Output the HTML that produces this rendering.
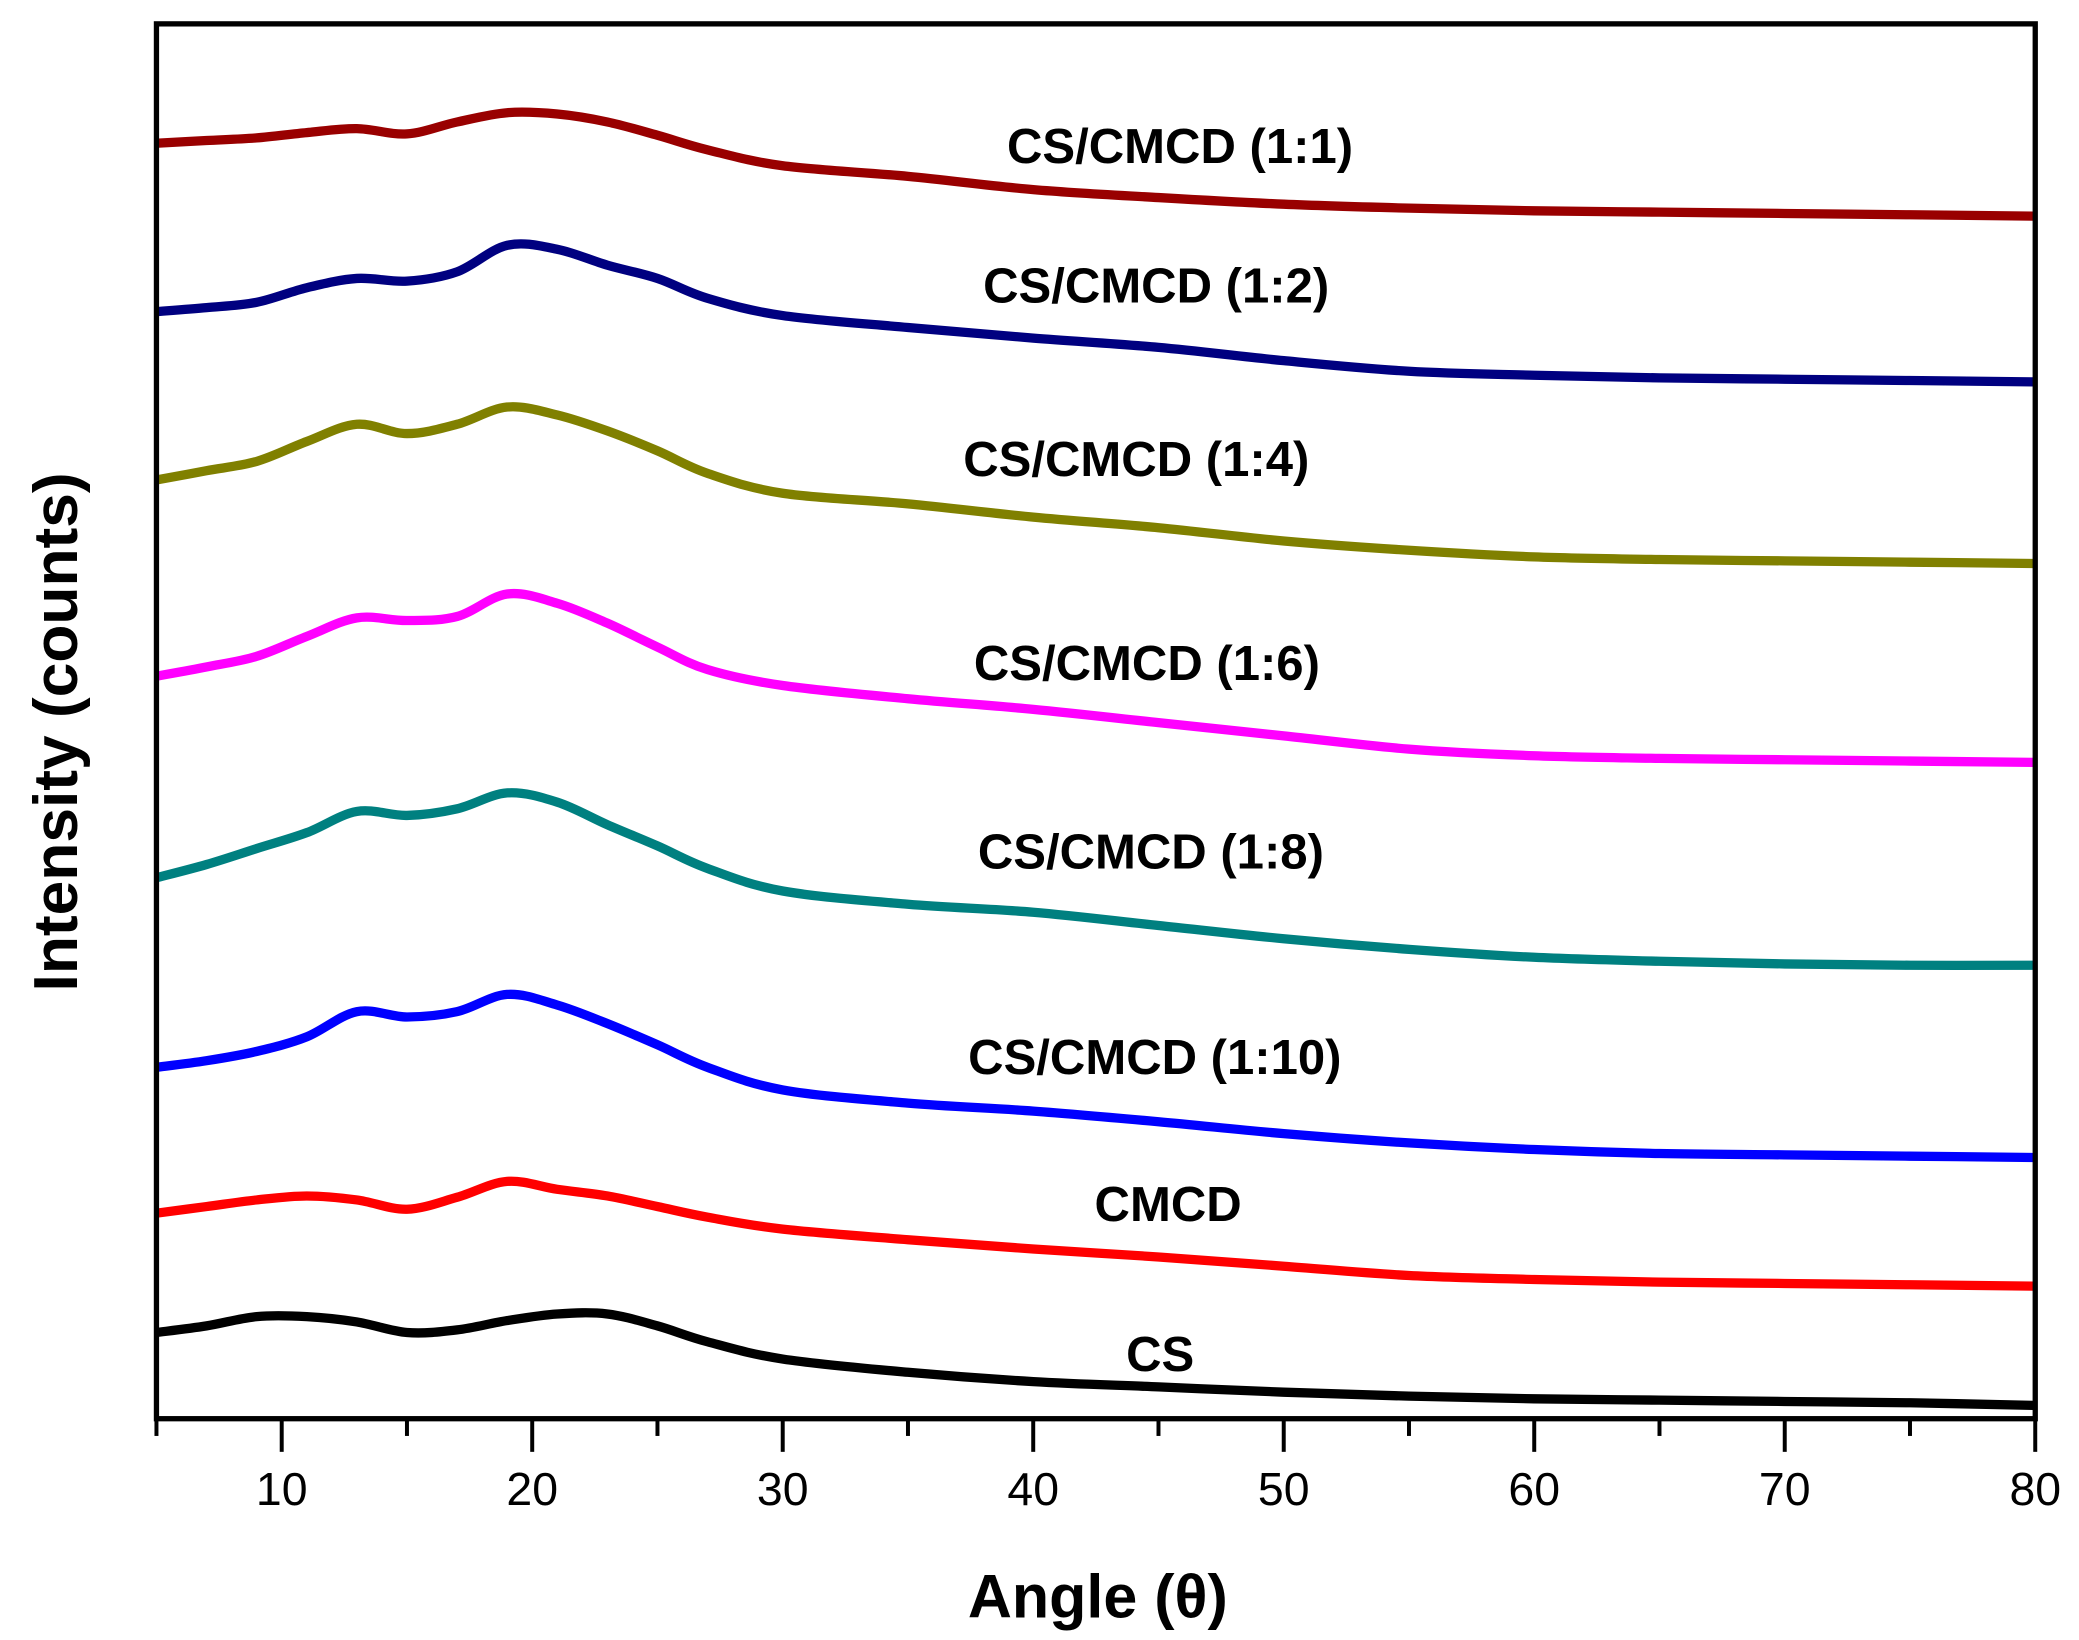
<!DOCTYPE html>
<html><head><meta charset="utf-8"><style>html,body{margin:0;padding:0;background:#fff}svg{display:block}</style></head>
<body>
<svg id="chart" width="2079" height="1640" viewBox="0 0 1568 1236.9" xmlns="http://www.w3.org/2000/svg" font-family="Liberation Sans, Arial, sans-serif">
<rect width="1568" height="1237" fill="#fff"/>
<g id="series"></g>
<rect x="118" y="18" width="1417" height="1052" fill="none" stroke="#000" stroke-width="4"/>
<g id="axis"></g>
<text x="828" y="1220" font-size="46" font-weight="bold" text-anchor="middle">Angle (θ)</text>
<text transform="translate(58,552) rotate(-90)" font-size="47" font-weight="bold" text-anchor="middle">Intensity (counts)</text>
</svg>
<script>
const angles=[5,7,9,11,13,15,17,19,21,23,25,27,30,35,40,45,50,55,60,65,70,75,80];
// intensities in arbitrary units (1070 - pixel offset)
const csVals=[1005,1000,993,993,997,1005,1003,996,991,991,1000,1012,1025,1035,1042,1046,1050,1053,1055,1056,1057,1058,1060].map(v=>1070-v);
const cmcdVals=[915,910,905,902,905,912,903,891,897,902,910,918,927,935,942,948,955,962,965,967,968,969,970].map(v=>1070-v);
const r110Vals=[805,800,793,782,763,767,763,750,758,772,788,805,822,832,838,846,855,862,867,870,871,872,873].map(v=>1070-v);
const r18Vals=[662,652,640,628,612,615,610,598,605,622,638,655,672,682,688,698,708,716,722,725,727,728,728].map(v=>1070-v);
const r16Vals=[510,503,495,480,466,468,465,448,455,470,488,505,517,527,535,545,555,565,570,572,573,574,575].map(v=>1070-v);
const r14Vals=[362,355,348,333,320,327,320,307,313,325,340,357,372,380,390,398,408,415,420,422,423,424,425].map(v=>1070-v);
const r12Vals=[235,232,228,217,210,212,205,185,188,200,210,225,238,247,255,262,272,280,283,285,286,287,288].map(v=>1070-v);
const r11Vals=[108,106,104,100,97,101,92,85,86,92,102,113,125,133,143,149,154,157,159,160,161,162,163].map(v=>1070-v);
const seriesNames=["CS","CMCD","CS/CMCD (1:10)","CS/CMCD (1:8)","CS/CMCD (1:6)","CS/CMCD (1:4)","CS/CMCD (1:2)","CS/CMCD (1:1)"];
const xTicks=[10,20,30,40,50,60,70,80];

const vals=[csVals,cmcdVals,r110Vals,r18Vals,r16Vals,r14Vals,r12Vals,r11Vals];
const colors=["#000000","#ff0000","#0000ff","#008080","#ff00ff","#808000","#000080","#990000"];
const labelPos=[[875,1021],[881,908],[871,797],[868,642],[865,500],[857,346],[872,215],[890,110]];
const X=a=>118+(a-5)*(1417/75);
const Y=v=>1070-v;
const NS="http://www.w3.org/2000/svg";
const sg=document.getElementById('series');
function pathFor(arr){
  const p=angles.map((a,i)=>[X(a),Y(arr[i])]);
  let d=`M${p[0][0]},${p[0][1]}`;
  for(let i=0;i<p.length-1;i++){
    const p0=p[Math.max(0,i-1)],p1=p[i],p2=p[i+1],p3=p[Math.min(p.length-1,i+2)];
    const c1=[p1[0]+(p2[0]-p0[0])/6,p1[1]+(p2[1]-p0[1])/6];
    const c2=[p2[0]-(p3[0]-p1[0])/6,p2[1]-(p3[1]-p1[1])/6];
    d+=` C${c1[0]},${c1[1]} ${c2[0]},${c2[1]} ${p2[0]},${p2[1]}`;
  }
  return d;
}
vals.forEach((arr,k)=>{
  const pth=document.createElementNS(NS,'path');
  pth.setAttribute('d',pathFor(arr));
  pth.setAttribute('fill','none');
  pth.setAttribute('stroke',colors[k]);
  pth.setAttribute('stroke-width','7');
  
  
  sg.appendChild(pth);
  const t=document.createElementNS(NS,'text');
  t.setAttribute('x',labelPos[k][0]);
  t.setAttribute('y',labelPos[k][1]+13);
  t.setAttribute('font-size','37');
  t.setAttribute('font-weight','bold');
  t.setAttribute('text-anchor','middle');
  t.textContent=seriesNames[k];
  
  
  sg.appendChild(t);
});
const ag=document.getElementById('axis');
for(let a=5;a<=80;a+=5){
  const major=a%10===0;
  const l=document.createElementNS(NS,'line');
  l.setAttribute('x1',X(a));l.setAttribute('x2',X(a));
  l.setAttribute('y1',1070);l.setAttribute('y2',major?1095:1083);
  l.setAttribute('stroke','#000');l.setAttribute('stroke-width','3');
  
  
  ag.appendChild(l);
}
xTicks.forEach(a=>{
  const t=document.createElementNS(NS,'text');
  t.setAttribute('x',X(a));t.setAttribute('y',1135);
  t.setAttribute('font-size','35');t.setAttribute('text-anchor','middle');
  t.textContent=a;
  
  
  ag.appendChild(t);
});
</script>
</body></html>
